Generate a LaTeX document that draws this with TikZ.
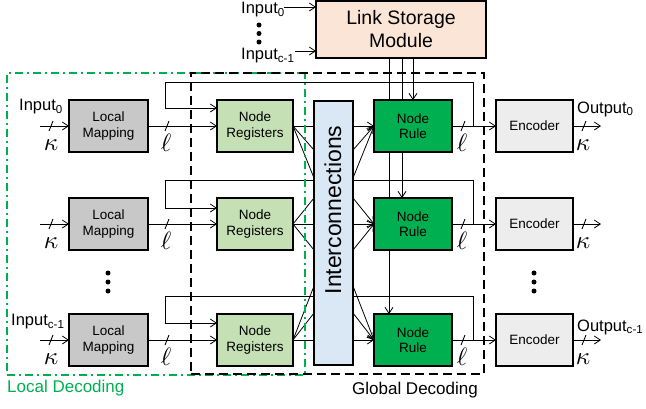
\documentclass[tikz,border=0pt]{standalone}
\usepackage{graphicx}
\usepackage{fontspec}
\setmainfont{Liberation Sans}
\usetikzlibrary{arrows.meta,backgrounds}
\definecolor{lmgray}{HTML}{C8C8C8}
\definecolor{nrgreen}{HTML}{C5E0B4}
\definecolor{rulegreen}{HTML}{00B050}
\definecolor{encgray}{HTML}{EDEDED}
\definecolor{lsmpeach}{HTML}{FBE5D6}
\definecolor{icblue}{HTML}{DAE8F6}
\definecolor{ldgreen}{HTML}{00B050}
\newcommand{\bigsym}[1]{\scalebox{2.5}{$#1$}}
\begin{document}
\begin{tikzpicture}[x=1pt,y=-1pt,
  blk/.style={draw=black,line width=2.2pt,inner sep=0pt,outer sep=0pt,minimum height=52pt,align=center,font=\fontsize{13.5}{15.5}\selectfont},
  lmbox/.style={blk,fill=lmgray,minimum width=79pt},
  nrbox/.style={blk,fill=nrgreen,minimum width=76pt},
  rulebox/.style={blk,fill=rulegreen,minimum width=78pt},
  encbox/.style={blk,fill=encgray,minimum width=77pt},
  conn/.style={line width=0.8pt,-{Straight Barb[length=6pt,width=8pt]}},
  wire/.style={line width=0.8pt},
  slashmark/.style={line width=0.9pt},
  lbl/.style={font=\fontsize{16.5}{18}\selectfont,inner sep=0pt},
  mlbl/.style={inner sep=0pt},
  dotmark/.style={circle,fill=black,inner sep=0pt,minimum size=5pt}
]
\useasboundingbox (0,0) rectangle (646,408);

% frames
\node[draw=ldgreen,line width=2pt,dash pattern=on 8pt off 4pt on 2pt off 4pt,minimum width=298pt,minimum height=302pt,inner sep=0pt] (localframe) at (156,224) {};
\node[draw=black,line width=2.4pt,dash pattern=on 9pt off 5pt,minimum width=293pt,minimum height=301pt,inner sep=0pt] (globalframe) at (337.5,223.5) {};
\node[text=ldgreen,font=\fontsize{17}{19}\selectfont,inner sep=0pt,anchor=west] (ldlabel) at (7,388) {Local Decoding};
\node[font=\fontsize{17}{19}\selectfont,inner sep=0pt] (gdlabel) at (415,390) {Global Decoding};

% Link storage module
\node[blk,fill=lsmpeach,minimum width=170pt,minimum height=57pt,font=\fontsize{19.5}{23}\selectfont] (lsm) at (401,29.5) {Link Storage\\Module};
\node[lbl,anchor=west] (tin0) at (241,10) {Input\textsubscript{0}};
\node[lbl,anchor=west] (tinc) at (241,56) {Input\textsubscript{c-1}};
\node[dotmark] (td1) at (259,25) {};
\node[dotmark] (td2) at (259,33.5) {};
\node[dotmark] (td3) at (259,42) {};
\coordinate (ta0) at (284,7);
\coordinate (tac) at (295,51);
\draw[conn] (ta0) -- (lsm.west |- ta0);
\draw[conn] (tac) -- (lsm.west |- tac);

% Interconnections
\node[blk,fill=icblue,minimum width=39pt,minimum height=264pt] (ic) at (333.5,233) {};
\node[rotate=90,font=\fontsize{23}{25}\selectfont,inner sep=0pt] (ictext) at (333,210) {Interconnections};

% rows
\foreach \r/\yc/\fb/\fa/\ua/\ub in {1/126/82/108/150/178, 2/224/180/208/198/250, 3/340/296/323/313/286}{
  \node[lmbox] (lm\r) at (108.5,\yc) {Local\\Mapping};
  \node[nrbox] (nr\r) at (255,\yc) {Node\\Registers};
  \node[rulebox] (rule\r) at (413,\yc) {Node\\Rule};
  \node[encbox] (enc\r) at (534.5,\yc) {Encoder};
  \coordinate (in\r) at (40,\yc);
  \coordinate (out\r) at (601,\yc);
  \coordinate (tap\r) at (473,\yc);
  \draw[conn] (in\r) -- (lm\r.west);
  \draw[slashmark] (49,\yc+5) -- (53,\yc-5);
  \node[mlbl] (ka\r) at (51,\yc+19) {\bigsym{\kappa}};
  \draw[conn] (lm\r.east) -- (nr\r.west);
  \draw[slashmark] (165,\yc+5) -- (169,\yc-5);
  \node[mlbl] (la\r) at (166,\yc+17) {\bigsym{\ell}};
  \draw[conn] (rule\r.east) -- (enc\r.west);
  \draw[slashmark] (461,\yc+5) -- (465,\yc-5);
  \node[mlbl] (lb\r) at (462,\yc+17) {\bigsym{\ell}};
  \draw[conn] (enc\r.east) -- (out\r);
  \draw[slashmark] (582,\yc+5) -- (586,\yc-5);
  \node[mlbl] (kb\r) at (583,\yc+19) {\bigsym{\kappa}};
  \begin{scope}[on background layer]
    \draw[conn] (tap\r) |- (165,\fb) |- (nr\r.west |- 0,\fa);
    \draw[wire] (nr\r.east) -- (ic.west |- 0,\yc);
    \draw[wire] (nr\r.east) -- (ic.west |- 0,\ua);
    \draw[wire] (nr\r.east) -- (ic.west |- 0,\ub);
    \draw[conn] (ic.east |- 0,\yc) -- (rule\r.west);
    \draw[conn] (ic.east |- 0,\ua) -- (rule\r.west);
    \draw[conn] (ic.east |- 0,\ub) -- (rule\r.west);
  \end{scope}
}

% LSM to node rules
\begin{scope}[on background layer]
  \draw[conn] (lsm.south -| 413,0) -- (rule1.north -| 413,0);
  \draw[conn] (lsm.south -| 402,0) -- (rule2.north -| 402,0);
  \draw[conn] (lsm.south -| 389,0) -- (rule3.north -| 389,0);
\end{scope}

% labels
\node[lbl,anchor=west] (li0) at (19,107) {Input\textsubscript{0}};
\node[lbl,anchor=west] (lic) at (11,322) {Input\textsubscript{c-1}};
\node[lbl,anchor=west] (lo0) at (577,109) {Output\textsubscript{0}};
\node[lbl,anchor=west] (loc) at (577,327) {Output\textsubscript{c-1}};

% dots
\node[dotmark] (ld1) at (108,273) {};
\node[dotmark] (ld2) at (108,282) {};
\node[dotmark] (ld3) at (108,291) {};
\node[dotmark] (ed1) at (534,273) {};
\node[dotmark] (ed2) at (534,282) {};
\node[dotmark] (ed3) at (534,291) {};
\end{tikzpicture}
\end{document}
